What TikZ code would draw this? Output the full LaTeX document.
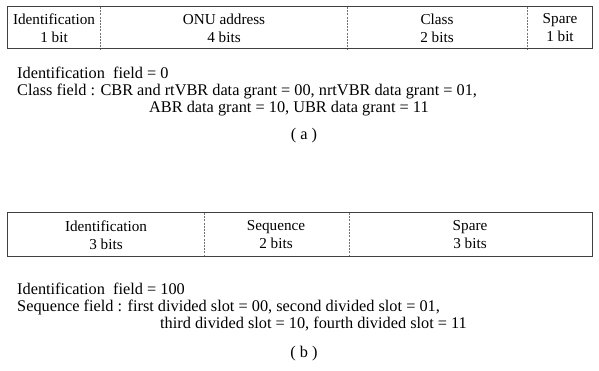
\documentclass[tikz,border=0pt]{standalone}
\usepackage{fontspec}
\setmainfont{Liberation Serif}
\begin{document}
\begin{tikzpicture}[x=1pt,y=-1pt,
  frame/.style={draw=black!75,line width=1pt},
  divider/.style={draw=black!55,line width=0.6pt,dash pattern=on 2pt off 1.2pt},
  cell/.style={align=center,inner sep=0pt,font=\fontsize{15.2}{18}\selectfont},
  note/.style={anchor=base west,inner sep=0pt,font=\fontsize{16.3}{17}\selectfont},
  caption/.style={anchor=base,inner sep=0pt,font=\fontsize{16.3}{17}\selectfont}]
\useasboundingbox (0,0) rectangle (599,371);

% ---- format (a): 8-bit grant field ----
\draw[frame] (7,7) rectangle (592,49);
\draw[divider] (100,7) -- (100,49);
\draw[divider] (347,7) -- (347,49);
\draw[divider] (527,7) -- (527,49);
\node[cell] (aid)    at (54,28)    {Identification\\1 bit};
\node[cell] (aonu)   at (224,28)   {ONU address\\4 bits};
\node[cell] (aclass) at (437,28)   {Class\\2 bits};
\node[cell] (aspare) at (560,28)   {Spare\\1 bit};

\node[note] (an1) at (17,79)  {Identification\ \ field = 0};
\node[note] (an2) at (17,96)  {Class field : CBR and rtVBR data grant = 00, nrtVBR data grant = 01,};
\node[note] (an3) at (149,113) {ABR data grant = 10, UBR data grant = 11};
\node[caption] (acap) at (304,140) {( a )};

% ---- format (b): divided-slot grant field ----
\draw[frame] (7,213) rectangle (592,256);
\draw[divider] (204,213) -- (204,256);
\draw[divider] (349,213) -- (349,256);
\node[cell] (bid)    at (106,235) {Identification\\3 bits};
\node[cell] (bseq)   at (276,235) {Sequence\\2 bits};
\node[cell] (bspare) at (470,235) {Spare\\3 bits};

\node[note] (bn1) at (17,294)  {Identification\ \ field = 100};
\node[note] (bn2) at (17,311)  {Sequence field : first divided slot = 00, second divided slot = 01,};
\node[note] (bn3) at (160,328) {third divided slot = 10, fourth divided slot = 11};
\node[caption] (bcap) at (304,357) {( b )};
\end{tikzpicture}
\end{document}
